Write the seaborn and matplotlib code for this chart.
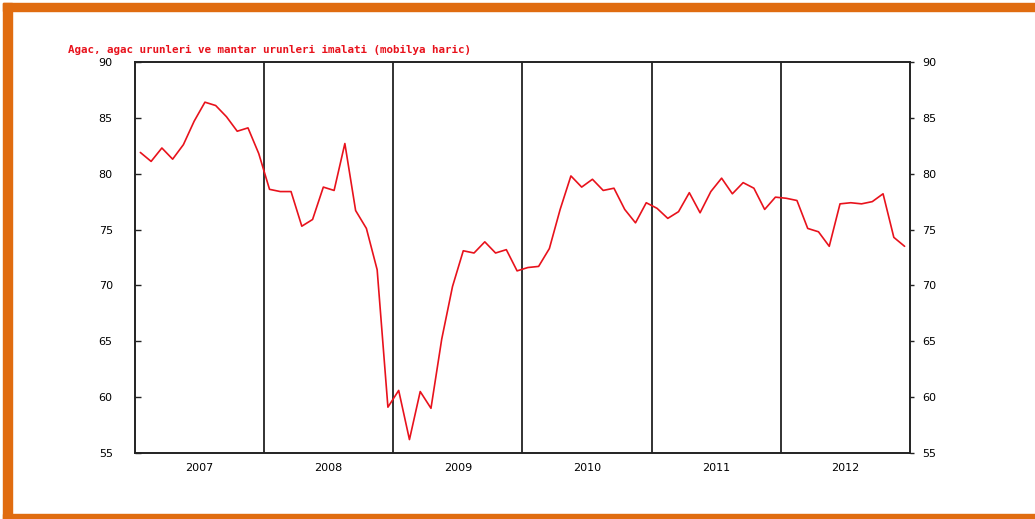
import numpy as np
import pandas as pd
import matplotlib
matplotlib.use('Agg')
import matplotlib.pyplot as plt
import seaborn as sns
from matplotlib.patches import Rectangle

# monthly index values, Jan 2007 - Dec 2012
years = ['2007', '2008', '2009', '2010', '2011', '2012']
v2007 = [81.9, 81.1, 82.3, 81.3, 82.6, 84.7, 86.4, 86.1, 85.1, 83.8, 84.1, 81.8]
v2008 = [78.6, 78.4, 78.4, 75.3, 75.9, 78.8, 78.5, 82.7, 76.7, 75.1, 71.4, 59.1]
v2009 = [60.6, 56.2, 60.5, 59.0, 65.2, 69.9, 73.1, 72.9, 73.9, 72.9, 73.2, 71.3]
v2010 = [71.6, 71.7, 73.3, 76.8, 79.8, 78.8, 79.5, 78.5, 78.7, 76.8, 75.6, 77.4]
v2011 = [76.9, 76.0, 76.6, 78.3, 76.5, 78.4, 79.6, 78.2, 79.2, 78.7, 76.8, 77.9]
v2012 = [77.8, 77.6, 75.1, 74.8, 73.5, 77.3, 77.4, 77.3, 77.5, 78.2, 74.3, 73.5]

title = "Agac, agac urunleri ve mantar urunleri imalati (mobilya haric)"

values = v2007 + v2008 + v2009 + v2010 + v2011 + v2012
df = pd.DataFrame({'month': np.arange(len(values)), 'value': values})

sns.set_style('white')
plt.rcParams['font.family'] = ['DejaVu Sans']

fig = plt.figure(figsize=(10.35, 5.19), dpi=100)
ax = fig.add_axes([0.1304, 0.1272, 0.7488, 0.7534])

sns.lineplot(data=df, x='month', y='value', ax=ax, color='#e8121c', linewidth=1.2)

n = len(values)
ax.set_xlim(-0.5, n - 0.5)
ax.set_ylim(55, 90)

# year separators
for k in range(1, len(years)):
    ax.axvline(12 * k - 0.5, color='#222222', linewidth=1.3, zorder=1)

# x ticks: year labels at centers, quarter marks as minor ticks
ax.set_xticks([12 * k + 5.5 for k in range(len(years))])
ax.set_xticklabels(years)
minor = [12 * k + q - 0.5 for k in range(len(years)) for q in (3, 6, 9)]
ax.set_xticks(minor, minor=True)
ax.tick_params(axis='x', which='major', length=0, pad=7, labelsize=8, labelcolor='black')
ax.tick_params(axis='x', which='minor', direction='in', length=4, width=1, color='#222222')

yt = [55, 60, 65, 70, 75, 80, 85, 90]
ax.set_yticks(yt)
ax.tick_params(axis='y', direction='in', length=4, width=1, pad=16, labelsize=8,
               color='#222222', labelcolor='black')
ax.set_xlabel('')
ax.set_ylabel('')

ax2 = ax.twinx()
ax2.set_ylim(55, 90)
ax2.set_yticks(yt)
ax2.tick_params(axis='y', direction='out', length=3, width=1, pad=6, labelsize=8,
                color='#222222', labelcolor='black')

for a in (ax, ax2):
    for s in a.spines.values():
        s.set_color('#222222')
        s.set_linewidth(1.2)

fig.text(0.0657, 0.9037, title, color='#e8121c', fontsize=7.8,
         family='DejaVu Sans Mono', fontweight='bold', va='center', ha='left')

# orange frame (left, top, bottom)
orange = '#e06c10'
fig.patches.append(Rectangle((0.003, 0.0), 0.0085, 0.994, transform=fig.transFigure, color=orange, zorder=0))
fig.patches.append(Rectangle((0.003, 0.979), 0.997, 0.015, transform=fig.transFigure, color=orange, zorder=0))
fig.patches.append(Rectangle((0.003, 0.0), 0.997, 0.0105, transform=fig.transFigure, color=orange, zorder=0))

fig.savefig('out.png', dpi=100)
